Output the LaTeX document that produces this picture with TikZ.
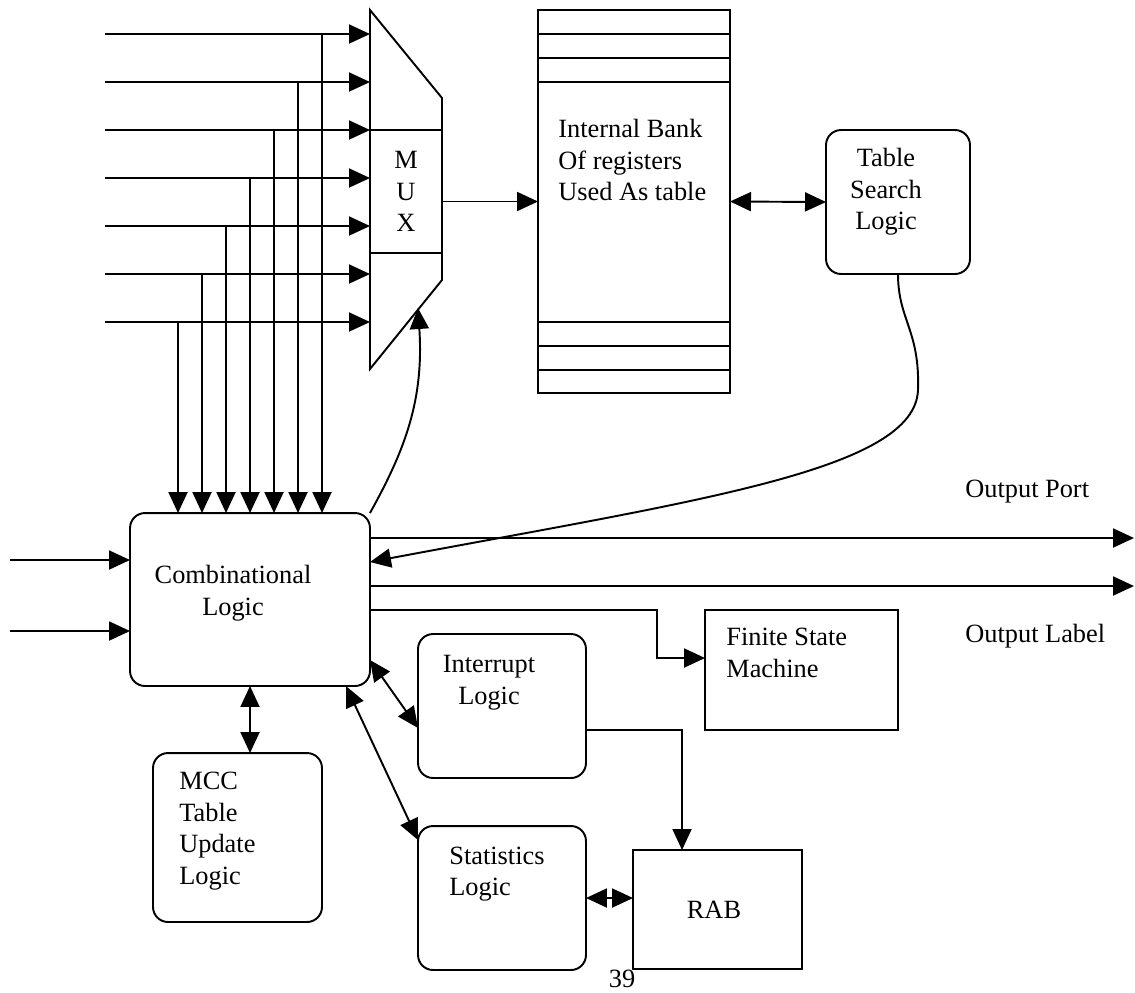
\documentclass[tikz,border=0pt]{standalone}
\usepackage{fontspec}
\setmainfont{Liberation Serif}
\usetikzlibrary{arrows.meta}
\tikzset{
  wire/.style={line width=1.1pt},
  arrow/.style={wire, -{Triangle[length=4.2mm,width=3.8mm]}},
  biarrow/.style={wire, {Triangle[length=4.2mm,width=3.8mm]}-{Triangle[length=4.2mm,width=3.8mm]}},
  block/.style={draw, line width=1.1pt, rounded corners=0.3cm, inner sep=0pt, outer sep=0pt},
  plainblock/.style={draw, line width=1.1pt, inner sep=0pt, outer sep=0pt},
  txt/.style={font=\fontsize{15}{18}\selectfont, inner sep=0pt}
}
\begin{document}
\begin{tikzpicture}[x=0.02cm, y=-0.02cm]
  \useasboundingbox (0,0) rectangle (1135,992);

  % multiplexer
  \node[plainblock, minimum width=1.44cm, minimum height=2.46cm, txt, align=center] (mux) at (406,191.5) {M\\U\\X};
  \draw[wire] (mux.north west) -- (370,10) -- (442,98) -- (mux.north east);
  \draw[wire] (mux.south west) -- (370,369) -- (442,280) -- (mux.south east);
  \coordinate (msel) at (418,308);

  % register bank
  \node[plainblock, minimum width=3.84cm, minimum height=7.66cm] (bank) at (634,201.5) {};
  \foreach \y in {34,58,82,322,346,370}
    \draw[wire] (bank.west |- 0,\y) -- (bank.east |- 0,\y);
  \node[txt, anchor=west, align=left] (banktxt) at (558,160) {Internal Bank\\Of registers\\Used As table};

  \node[block, minimum width=2.88cm, minimum height=2.88cm] (search) at (898,202) {};
  \node[txt, align=center] (searchtxt) at (886,192) {Table\\Search\\Logic};

  \node[block, minimum width=4.8cm, minimum height=3.46cm] (comb) at (250,599.5) {};
  \node[txt, align=center] (combtxt) at (233,593) {Combinational\\Logic};

  \node[block, minimum width=3.38cm, minimum height=3.38cm] (mcc) at (237.5,837.5) {};
  \node[txt, anchor=west, align=left] (mcctxt) at (179,831) {MCC\\Table\\Update\\Logic};

  \node[block, minimum width=3.36cm, minimum height=2.88cm] (int) at (502,706) {};
  \node[txt, align=center] (inttxt) at (489,683) {Interrupt\\Logic};

  \node[block, minimum width=3.36cm, minimum height=2.88cm] (stat) at (502,898) {};
  \node[txt, anchor=west, align=left] (stattxt) at (449,874) {Statistics\\Logic};

  \node[plainblock, minimum width=3.38cm, minimum height=2.38cm] (rab) at (717.5,909.5) {};
  \node[txt] (rabtxt) at (714,910) {RAB};

  \node[plainblock, minimum width=3.86cm, minimum height=2.4cm] (fsm) at (801.5,670) {};
  \node[txt, anchor=west, align=left] (fsmtxt) at (726,653) {Finite State\\Machine};

  \node[txt, anchor=west] (porttxt) at (965,492) {Output Port};
  \node[txt, anchor=west] (labeltxt) at (965,636) {Output Label};
  \node[txt] (pagetxt) at (622,979) {39};

  % inputs to the mux, tapped down to the logic
  \foreach \y/\x in {34/322,82/298,130/274,178/250,226/226,274/202,322/178} {
    \coordinate (in\y) at (105,\y);
    \draw[arrow] (in\y) -- (370,\y);
    \draw[arrow] (\x,\y) -- (\x,0 |- comb.north);
  }
  \coordinate (cin1) at (10,560);
  \coordinate (cin2) at (10,631);
  \draw[arrow] (cin1) -- (cin1 -| comb.west);
  \draw[arrow] (cin2) -- (cin2 -| comb.west);

  \draw[arrow] (bank.west -| mux.east) -- (bank.west);
  \draw[biarrow] (bank.east) -- (search.west);
  \draw[arrow] (comb.north east) .. controls (405,450) and (424,400) .. (msel);
  \draw[arrow] (search.south) .. controls (898,320) and (920,330) .. (918,390)
    .. controls (915,470) and (700,500) .. ([yshift=0.75cm]comb.east);

  \coordinate (out1) at (1134,538);
  \coordinate (out2) at (1134,586);
  \draw[arrow] ([yshift=1.23cm]comb.east) -- (out1);
  \draw[arrow] ([yshift=0.27cm]comb.east) -- (out2);
  \draw[arrow] ([yshift=-0.21cm]comb.east) -| (657,658) -- ([yshift=0.24cm]fsm.west);

  \draw[biarrow] (comb.south) -- (comb.south |- mcc.north);
  \draw[biarrow] ([yshift=0.52cm]comb.south east) -- ([yshift=-0.44cm]int.west);
  \draw[biarrow] ([xshift=-0.48cm]comb.south east) -- ([yshift=-0.28cm]stat.north west);
  \draw[arrow] ([yshift=-0.48cm]int.east) -| ([xshift=-0.71cm]rab.north);
  \draw[biarrow] (stat.east) -- (stat.east -| rab.west);
\end{tikzpicture}
\end{document}
